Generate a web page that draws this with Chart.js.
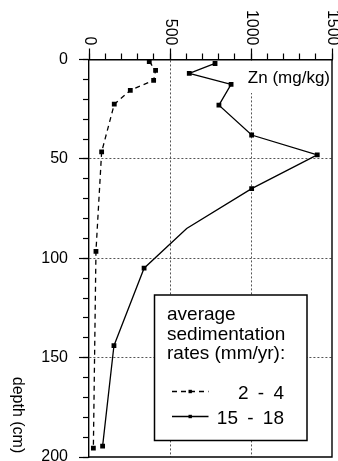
<!DOCTYPE html>
<html>
<head>
<meta charset="utf-8">
<title>Zn depth profile</title>
<script src="https://cdn.jsdelivr.net/npm/chart.js@4.4.1/dist/chart.umd.min.js"></script>
<style>
  html, body { margin: 0; padding: 0; background: #fff; }
  #wrap { width: 338px; height: 461px; }
</style>
</head>
<body>
<div id="wrap"><canvas id="znChart" width="338" height="461"></canvas></div>
<script>
    // Zn (mg/kg) against depth (cm)
    const depthSlow = [1, 5.5, 10.5, 15.5, 22.5, 46.5, 96.5, 195.5];
    const zincSlow  = [372, 411, 399, 255, 156, 78, 43, 27];

    const depthFast = [2, 7, 12.5, 23, 38, 48, 65, 85, 105, 144, 194.5];
    const zincFast  = [778, 619, 877, 802, 1004, 1409, 1004, 603, 340, 154, 84];
    const fastNoMarker = [85];   // bend in the line, no square there

    const seriesNames = ['2 - 4', '15 - 18'];
    const legendTitle = ['average', 'sedimentation', 'rates (mm/yr):'];
    const znTicks = [0, 500, 1000, 1500];
    const depthTicks = [0, 50, 100, 150, 200];
    const xLabel = 'Zn (mg/kg)';
    const yLabel = 'depth (cm)';

    const FONT = '"Liberation Sans", Arial, Helvetica, sans-serif';
    Chart.defaults.font.family = FONT;
    Chart.defaults.color = '#000';

    const clear = 'rgba(0,0,0,0)';

    // extra drawing: Zn label, frame, rotated labels, legend box
    const extras = {
      id: 'extras',
      beforeDatasetsDraw(chart) {
        const {ctx, chartArea: a} = chart;
        ctx.save();
        ctx.fillStyle = '#fff';
        ctx.fillRect(a.right - 90, a.top + 1.5, 89, 32);
        ctx.fillStyle = '#000';
        ctx.font = '17px ' + FONT;
        ctx.textAlign = 'right';
        ctx.textBaseline = 'alphabetic';
        ctx.fillText(xLabel, a.right - 2, a.top + 23.5);
        ctx.restore();
      },
      afterDatasetsDraw(chart) {
        const {ctx, chartArea: a} = chart;
        ctx.save();
        // right and bottom frame
        ctx.strokeStyle = '#000';
        ctx.lineWidth = 1.4;
        ctx.beginPath();
        ctx.moveTo(a.right, a.top);
        ctx.lineTo(a.right, a.bottom);
        ctx.lineTo(a.left, a.bottom);
        ctx.stroke();

        // legend box
        const bx = a.left + 65.5, by = a.top + 235.5, bw = 152.5, bh = 145.5;
        ctx.fillStyle = '#fff';
        ctx.fillRect(bx, by, bw, bh);
        ctx.lineWidth = 1.5;
        ctx.strokeRect(bx, by, bw, bh);
        ctx.fillStyle = '#000';
        ctx.font = '19px ' + FONT;
        ctx.textBaseline = 'alphabetic';
        ctx.textAlign = 'left';
        legendTitle.forEach((t, i) => ctx.fillText(t, bx + 12.5, by + 25 + i * 19.5));

        ctx.textAlign = 'right';
        if ('wordSpacing' in ctx) ctx.wordSpacing = '4px';
        chart.data.datasets.forEach((ds, i) => {
          const ly = by + 96.5 + i * 25;
          ctx.save();
          ctx.strokeStyle = ds.borderColor;
          ctx.lineWidth = ds.borderWidth;
          ctx.setLineDash(ds.borderDash || []);
          ctx.beginPath();
          ctx.moveTo(bx + 17.5, ly);
          ctx.lineTo(bx + 54, ly);
          ctx.stroke();
          ctx.restore();
          ctx.fillRect(bx + 34, ly - 1.7, 3.4, 3.4);
          ctx.fillText(ds.label, bx + 129.5, ly + 7);
        });
        ctx.restore();
      },
      afterDraw(chart) {
        const {ctx, chartArea: a} = chart;
        const xs = chart.scales.x;
        ctx.save();
        ctx.fillStyle = '#000';
        ctx.font = '16px ' + FONT;
        ctx.textAlign = 'right';
        ctx.textBaseline = 'middle';
        xs.ticks.forEach(t => {
          ctx.save();
          ctx.translate(xs.getPixelForValue(t.value), a.top - 14);
          ctx.rotate(Math.PI / 2);
          ctx.fillText(t.label, 0, 0);
          ctx.restore();
        });
        // axis title, reads top to bottom
        ctx.translate(17.5, a.bottom - 42);
        ctx.rotate(Math.PI / 2);
        ctx.textAlign = 'center';
        ctx.fillText(yLabel, 0, 0);
        ctx.restore();
      }
    };

    const data = {
      datasets: [
        {
          label: seriesNames[0],
          data: depthSlow.map((d, i) => ({x: zincSlow[i], y: d})),
          borderColor: '#000',
          borderWidth: 1.3,
          borderDash: [5, 4],
          pointStyle: 'rect',
          pointRadius: 3.4,
          pointBackgroundColor: '#000',
          pointBorderColor: '#000',
          pointBorderWidth: 0,
          fill: false,
          tension: 0
        },
        {
          label: seriesNames[1],
          data: depthFast.map((d, i) => ({x: zincFast[i], y: d})),
          borderColor: '#000',
          borderWidth: 1.3,
          pointStyle: 'rect',
          pointRadius: c => (c.raw && fastNoMarker.includes(c.raw.y)) ? 0 : 3.4,
          pointBackgroundColor: '#000',
          pointBorderColor: '#000',
          pointBorderWidth: 0,
          fill: false,
          tension: 0
        }
      ]
    };

    const config = {
      type: 'line',
      data,
      options: {
        indexAxis: 'y',
        responsive: false,
        animation: false,
        events: [],
        layout: { padding: { top: 0, left: 0, right: 6, bottom: 1.5 } },
        plugins: { legend: { display: false }, tooltip: { enabled: false } },
        scales: {
          x: {
            type: 'linear', position: 'top', min: 0, max: 1500, weight: 2,
            afterBuildTicks: s => { s.ticks = znTicks.map(v => ({value: v})); },
            ticks: { display: false, callback: v => String(v) },
            grid: {
              color: c => (c.tick && c.tick.value > 0 && c.tick.value < 1500) ? '#555' : clear,
              tickColor: '#000', tickLength: 11, tickWidth: 1.2, lineWidth: 1
            },
            border: { color: '#000', width: 1.4, dash: [2, 2] },
            afterFit: s => { s.height = 59.5; s.paddingLeft = 0; s.paddingRight = 0; }
          },
          xMinor: {
            type: 'linear', position: 'top', min: 0, max: 1500, weight: 1, display: true,
            ticks: { display: false, stepSize: 100 },
            grid: { drawOnChartArea: false, tickLength: 6, tickColor: '#000', tickWidth: 1.2 },
            border: { display: false },
            afterFit: s => { s.height = 0; s.paddingLeft = 0; s.paddingRight = 0; }
          },
          y: {
            type: 'linear', position: 'left', reverse: true, min: 0, max: 200, weight: 2,
            afterBuildTicks: s => { s.ticks = depthTicks.map(v => ({value: v})); },
            ticks: { font: { size: 16 }, padding: 11, color: '#000' },
            grid: {
              color: c => (c.tick && c.tick.value > 0 && c.tick.value < 200) ? '#555' : clear,
              tickColor: '#000', tickLength: 10, tickWidth: 1.2, lineWidth: 1
            },
            border: { color: '#000', width: 1.4, dash: [2, 2] },
            afterFit: s => { s.width = 89; s.paddingTop = 0; s.paddingBottom = 0; }
          },
          yMinor: {
            type: 'linear', position: 'left', reverse: true, min: 0, max: 200, weight: 1, display: true,
            ticks: { display: false, stepSize: 10 },
            grid: { drawOnChartArea: false, tickLength: 6, tickColor: '#000', tickWidth: 1.2 },
            border: { display: false },
            afterFit: s => { s.width = 0; s.paddingTop = 0; s.paddingBottom = 0; }
          }
        }
      },
      plugins: [extras]
    };

    const znChart = new Chart(document.getElementById('znChart'), config);
</script>
</body>
</html>
